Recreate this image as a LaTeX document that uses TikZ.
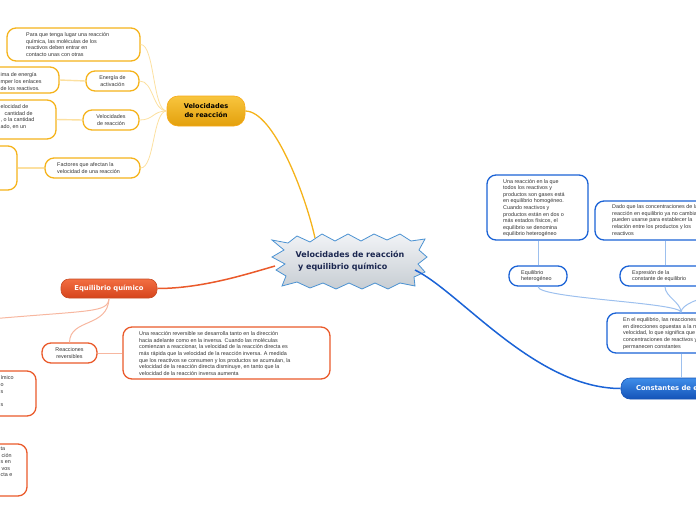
\documentclass[tikz,border=0pt]{standalone}
\usepackage{fontspec}
\setmainfont{Liberation Sans}
\newfontfamily\hdfont{DejaVu Sans}
\definecolor{ycol}{HTML}{F5B31B}
\definecolor{ylight}{HTML}{FCE0A0}
\definecolor{ytop}{HTML}{F8C53E}
\definecolor{ybot}{HTML}{E3A00C}
\definecolor{rcol}{HTML}{EA5A2B}
\definecolor{rlight}{HTML}{F7B7A0}
\definecolor{rtop}{HTML}{F26E42}
\definecolor{rbot}{HTML}{D6441C}
\definecolor{bcol}{HTML}{1B63D6}
\definecolor{blight}{HTML}{9DC0EE}
\definecolor{btop}{HTML}{3F8EEA}
\definecolor{bbot}{HTML}{1453B8}
\definecolor{navy}{HTML}{1B2750}
\definecolor{txtc}{HTML}{333333}
\definecolor{startop}{HTML}{F1F3F6}
\definecolor{starbot}{HTML}{C7CDD3}
\definecolor{starline}{HTML}{4B92D2}
\begin{document}
\begin{tikzpicture}[x=1pt,y=-1pt,
  txt/.style={font=\fontsize{5.4}{6.6}\selectfont, text=txtc, align=left, inner sep=0pt},
  ctxt/.style={font=\fontsize{5.4}{6.6}\selectfont, text=txtc, align=center, inner sep=0pt},
  ybox/.style={draw=ycol, line width=1.3pt, fill=white, rounded corners=9pt},
  rbox/.style={draw=rcol, line width=1.3pt, fill=white, rounded corners=9pt},
  bbox/.style={draw=bcol, line width=1.3pt, fill=white, rounded corners=9pt},
  ymainbox/.style={draw=ycol!80!orange, line width=0.6pt, top color=ytop, bottom color=ybot, rounded corners=11pt,
     font=\hdfont\bfseries\fontsize{6.6}{9}\selectfont, text=black, align=center},
  rmainbox/.style={draw=rcol!85!black, line width=0.6pt, top color=rtop, bottom color=rbot, rounded corners=8pt,
     font=\hdfont\bfseries\fontsize{6.8}{8}\selectfont, text=white, align=center},
  bmainbox/.style={draw=bcol!85!black, line width=0.6pt, top color=btop, bottom color=bbot, rounded corners=9pt,
     font=\hdfont\bfseries\fontsize{6.8}{8}\selectfont, text=white, align=left},
  yl/.style={draw=ylight, line width=0.8pt},
  ylw/.style={draw=ylight, line width=1.4pt},
  rl/.style={draw=rlight, line width=1pt},
  bl/.style={draw=blight, line width=1pt},
]
\useasboundingbox (0,0) rectangle (696,520);
\clip (0,0) rectangle (696,520);

% ---------- central starburst ----------
\draw[starline, line width=0.8pt, top color=startop, bottom color=starbot]
 (272,240) -- (288,243) -- (297,236) -- (310,242) -- (322,234) -- (335,241) -- (348,234) -- (361,241)
 -- (374,234) -- (387,240) -- (400,234) -- (411,241) -- (425,239) -- (419,250) -- (427,257) -- (418,264)
 -- (425,272) -- (414,277) -- (415,286) -- (400,283) -- (388,289) -- (375,283) -- (362,289) -- (349,283)
 -- (336,289) -- (323,283) -- (310,288) -- (297,282) -- (282,286) -- (286,276) -- (276,270) -- (285,264)
 -- (272,257) -- (284,250) -- cycle;
\node[font=\hdfont\bfseries\fontsize{8}{11.5}\selectfont, text=navy, align=left, inner sep=0pt] (c) at (350,261)
  {Velocidades de reacción\\\hspace{2.5pt}y equilibrio químico};
\coordinate (cTop) at (315,238);
\coordinate (cLeft) at (275,266);
\coordinate (cRight) at (415,270);

% ---------- yellow branch ----------
\node[ymainbox, minimum width=78, minimum height=30] (ym) at (206,111) {Velocidades\\de reacción};

\node[ybox, minimum width=133, minimum height=33] (y1) at (73.5,44.5) {};
\node[txt, anchor=north west] (y1t) at (26,32.5) {Para que tenga lugar una reacción\\química, las moléculas de los\\reactivos deben entrar en\\contacto unas con otras};

\node[ybox, minimum width=53, minimum height=20] (y2) at (112.5,81) {};
\node[ctxt] (y2t) at (y2) {Energía de\\activación};
\node[ybox, minimum width=120, minimum height=26] (y3) at (-1,80) {};
\node[txt, anchor=north west] (y3t) at (0.5,72.8) {ima de energía\\mper los enlaces\\de los reactivos.};

\node[ybox, minimum width=56, minimum height=20] (y4) at (111,120) {};
\node[ctxt] (y4t) at (y4) {Velocidades\\de reacción};
\node[ybox, minimum width=120, minimum height=39] (y5) at (-4,119.5) {};
\node[txt, anchor=north west] (y5t) at (0.5,104.5) {elocidad de\\\hspace{4pt}cantidad de\\, o la cantidad\\ado, en un};

\node[ybox, minimum width=95, minimum height=20] (y7) at (92.5,168) {};
\node[txt, anchor=west] (y7t) at (57,168) {Factores que afectan la\\velocidad de una reacción};
\node[ybox, minimum width=100, minimum height=44] (y6) at (-33,168) {};

\draw[ycol, line width=1.3pt] (ym.east) .. controls +(28,0) and +(-10,-45) .. (cTop);
\draw[yl] (ym.west) .. controls +(-14,0) and +(14,0) .. (y1.east);
\draw[yl] (ym.west) .. controls +(-14,0) and +(14,0) .. (y2.east);
\draw[yl] (ym.west) .. controls +(-14,0) and +(14,0) .. (y4.east);
\draw[yl] (ym.west) .. controls +(-14,0) and +(14,0) .. (y7.east);
\draw[ylw] (y2.west) -- (y3.east);
\draw[ylw] (y4.west) -- (y5.east);
\draw[ylw] (y7.west) -- (y6.east);

% ---------- red branch ----------
\node[rmainbox, minimum width=96, minimum height=19] (rm) at (109,288.5) {Equilibrio químico};
\node[rbox, minimum width=55, minimum height=20] (rr) at (69.5,353) {};
\node[ctxt] (rrt) at (rr) {Reacciones\\reversibles};
\node[rbox, minimum width=207, minimum height=52] (rb) at (226.5,353) {};
\node[txt, anchor=north west] (rbt) at (139,331.5) {Una reacción reversible se desarrolla tanto en la dirección\\hacia adelante como en la inversa. Cuando las moléculas\\comienzan a reaccionar, la velocidad de la reacción directa es\\más rápida que la velocidad de la reacción inversa. A medida\\que los reactivos se consumen y los productos se acumulan, la\\velocidad de la reacción directa disminuye, en tanto que la\\velocidad de la reacción inversa aumenta};
\node[rbox, minimum width=120, minimum height=45] (rc1) at (-24,393.5) {};
\node[txt, anchor=north west] (rc1t) at (0.5,375.8) {ímico\\o\\s\\~\\s};
\node[rbox, minimum width=120, minimum height=52] (rc2) at (-33,470) {};
\node[txt, anchor=north west] (rc2t) at (0.5,446.8) {ta\\\hspace{1pt}ción\\s en\\\hspace{1pt}vos\\cta e};
\coordinate (rOff) at (-15,319.5);

\draw[rcol, line width=1.5pt] (rm.east) .. controls +(45,0) and +(-28,8) .. (cLeft);
\draw[rl] (rm.south) .. controls (108,313) and (92,310) .. (rOff);
\draw[rl] (rm.south) .. controls (108,328) and (70,318) .. (rr.north);
\draw[rl] (rr.east) -- (rb.west);

% ---------- blue branch ----------
\node[bmainbox, minimum width=124, minimum height=21] (bm) at (683,388.5) {Constantes de equilibrio};
\node[bbox, minimum width=148, minimum height=40] (be) at (681,333) {};
\node[txt, anchor=north west] (bet) at (623,317.5) {En el equilibrio, las reacciones directa e\\en direcciones opuestas a la misma\\velocidad, lo que significa que las\\concentraciones de reactivos y productos\\permanecen constantes};
\node[bbox, minimum width=58, minimum height=20] (bh) at (538,276) {};
\node[txt, anchor=west] (bht) at (521,276) {Equilibrio\\heterogéneo};
\node[bbox, minimum width=90, minimum height=20] (bx) at (665,276) {};
\node[txt, anchor=west] (bxt) at (632,276) {Expresión de la\\constante de equilibrio};
\node[bbox, minimum width=101, minimum height=65] (bu) at (537.5,207.5) {};
\node[txt, anchor=north west] (but) at (503,179) {Una reacción en la que\\todos los reactivos y\\productos son gases está\\en equilibrio homogéneo.\\Cuando reactivos y\\productos están en dos o\\más estados físicos, el\\equilibrio se denomina\\equilibrio heterogéneo};
\node[bbox, minimum width=140, minimum height=39] (bd) at (665,220.5) {};
\node[txt, anchor=north west] (bdt) at (612,204.5) {Dado que las concentraciones de la\\reacción en equilibrio ya no cambian,\\pueden usarse para establecer la\\relación entre los productos y los\\reactivos};
\coordinate (bOff) at (712,297);

\draw[bcol, line width=1.5pt] (cRight) .. controls +(45,22) and +(-85,0) .. (bm.west);
\draw[bl] (bm.north -| be.south) -- (be.south);
\draw[bl] (be.north) .. controls +(0,-10) and +(0,12) .. (bh.south);
\draw[bl] (be.north) .. controls +(0,-10) and +(0,10) .. (bx.south);
\draw[bl] (be.north) .. controls +(0,-8) and +(-10,0) .. (bOff);
\draw[bl] (bh.north) -- (bh.north |- bu.south);
\draw[bl] (bx.north) -- (bx.north |- bd.south);
\end{tikzpicture}
\end{document}
